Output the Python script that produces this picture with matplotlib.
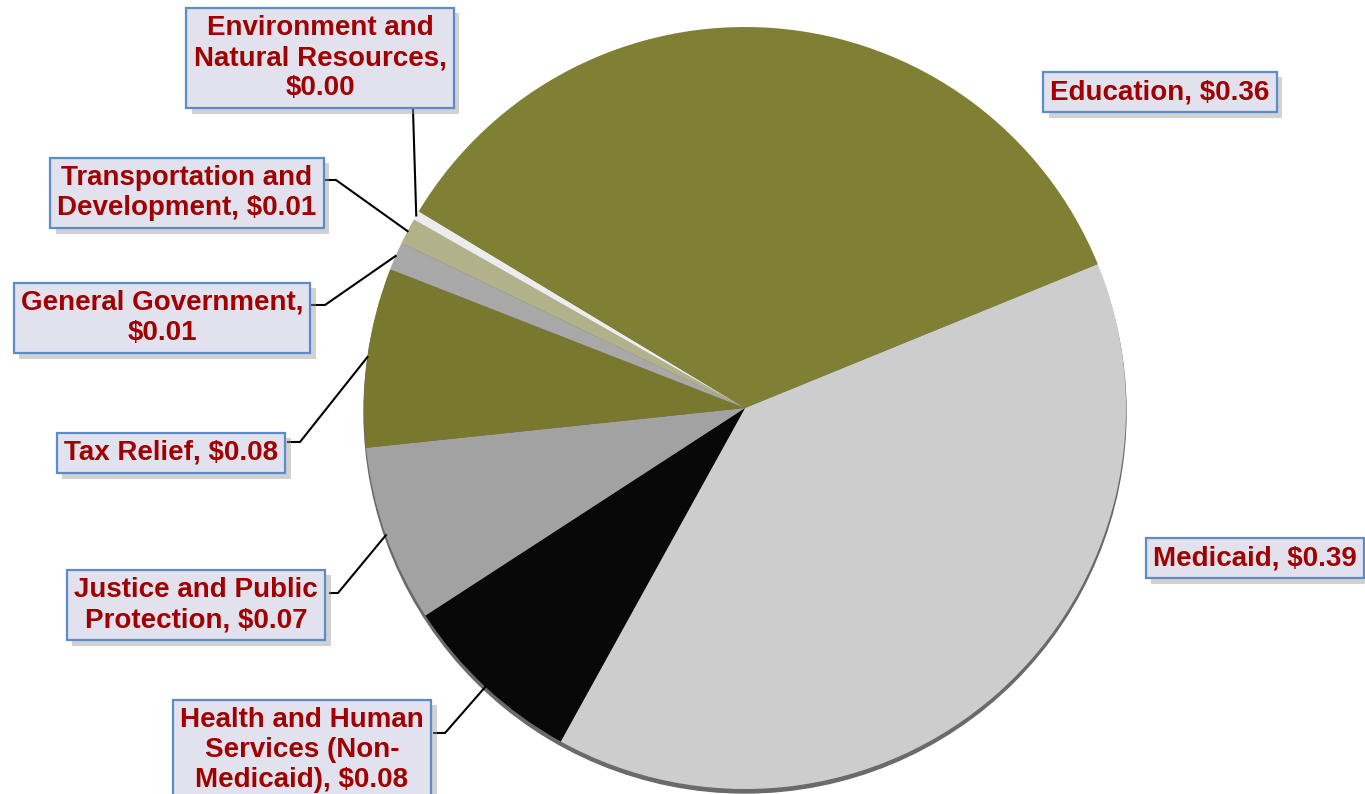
import matplotlib.pyplot as plt
import matplotlib.patheffects as pe
from matplotlib.patches import Circle
import numpy as np

plt.rcParams['font.family'] = ['Liberation Sans', 'DejaVu Sans']

# данные: доля каждого доллара по направлениям
categories = ['Medicaid', 'Health and Human\nServices (Non-\nMedicaid)', 'Justice and Public\nProtection',
              'Tax Relief', 'General Government,\n', 'Transportation and\nDevelopment',
              'Environment and\nNatural Resources,\n', 'Education']
shares = [0.392, 0.078, 0.075, 0.076, 0.012, 0.011, 0.004, 0.352]
value_labels = ['$0.39', '$0.08', '$0.07', '$0.08', '$0.01', '$0.01', '$0.00', '$0.36']
colors = ['#cdcdcd', '#080808', '#a2a2a2', '#78782f', '#a8a8a8', '#b2b28a', '#ececec', '#808034']

# расположение подписей (центр рамки) и изломы выносок, в пикселях
W, H = 1365, 794
label_pos = [(1255, 558), (302, 750), (196, 605), (171, 453), (162, 318), (187, 193), (320, 58), (1160, 92)]
elbows = [None, [(434, 733), (445, 733)], [(330, 593), (338, 593)], [(288, 442), (300, 442)],
          [(312, 305), (325, 305)], [(326, 180), (336, 180)], [(413, 110), (413, 110)], None]

cx, cy, r = 745, 794 - 408, 381

fig = plt.figure(figsize=(W / 100, H / 100), dpi=100)
ax = fig.add_axes([0, 0, 1, 1])

# тень под кругом
ax.add_patch(Circle((cx, cy - 4), r, color='#6a6a6a', zorder=0))

wedges, _ = ax.pie(shares, colors=colors, startangle=22.2, counterclock=False,
                   center=(cx, cy), radius=r, wedgeprops=dict(linewidth=0))
for w in wedges:
    w.set_zorder(1)

ax.set_xlim(0, W)
ax.set_ylim(0, H)
ax.set_aspect('equal')
ax.axis('off')

for i, w in enumerate(wedges):
    name = categories[i]
    if name.endswith('\n'):
        txt = name + value_labels[i]
    else:
        txt = name + ', ' + value_labels[i]
    lx, ly = label_pos[i]
    t = ax.text(lx, H - ly, txt, ha='center', va='center', fontsize=20, fontweight='bold',
                color='#a00000', linespacing=1.2, zorder=5,
                bbox=dict(boxstyle='square,pad=0.26', fc='#e1e2ed', ec='#5b8bc8', lw=1.6))
    t.get_bbox_patch().set_path_effects([pe.SimplePatchShadow(offset=(4, -4), shadow_rgbFace='#999999', alpha=0.45),
                                         pe.Normal()])
    if elbows[i] is not None:
        mid = np.deg2rad((w.theta1 + w.theta2) / 2)
        px, py = cx + r * np.cos(mid), cy + r * np.sin(mid)
        xs = [p[0] for p in elbows[i]] + [px]
        ys = [H - p[1] for p in elbows[i]] + [py]
        ax.plot(xs, ys, color='black', lw=1.5, zorder=2)

fig.savefig('out.png', dpi=100)
